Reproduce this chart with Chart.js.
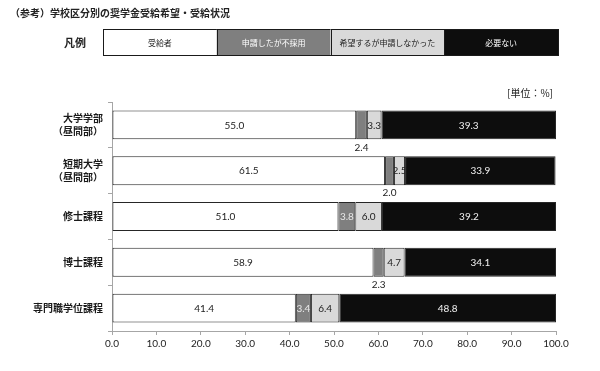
<!DOCTYPE html>
<html><head><meta charset="utf-8">
<script src="https://cdn.jsdelivr.net/npm/chart.js@4"></script>
<style>html,body{margin:0;padding:0;background:#fff;} #wrap{width:600px;height:371px;position:relative;}</style>
</head><body><div id="wrap"><canvas id="c" width="600" height="371"></canvas></div>
<script>
// ---- data ----
const chartTitle = '（参考）学校区分別の奨学金受給希望・受給状況';
const legendTitle = '凡例';
const unitLabel = '[単位：%]';
const categories = [['大学学部','（昼間部）'],['短期大学','（昼間部）'],'修士課程','博士課程','専門職学位課程'];
const seriesNames = ['受給者','申請したが不採用','希望するが申請しなかった','必要ない'];
const received = [55.0, 61.5, 51.0, 58.9, 41.4];
const appliedRejected = [2.4, 2.0, 3.8, 2.3, 3.4];
const wantedNotApplied = [3.3, 2.5, 6.0, 4.7, 6.4];
const notNeeded = [39.3, 33.9, 39.2, 34.1, 48.8];
const xTickMin = 0, xTickMax = 100, xTickStep = 10;

// ---- styles ----
const FONT = "Lato, 'Noto Sans CJK JP', sans-serif";
const JFONT = "'Noto Sans CJK JP', sans-serif";
const fills = ['#ffffff', '#7f7f7f', '#d9d9d9', '#0d0d0d'];
const labelColors = ['#222222', '#e8e8e8', '#222222', '#f2f2f2'];
const seriesValues = [received, appliedRejected, wantedNotApplied, notNeeded];

const datasets = seriesNames.map((name, i) => ({
  label: name,
  data: seriesValues[i],
  backgroundColor: fills[i],
  borderColor: '#262626',
  borderWidth: 1,
  borderSkipped: false,
  barPercentage: 0.63,
  categoryPercentage: 1.0
}));

const decorPlugin = {
  id: 'decor',
  afterDatasetsDraw(chart) {
    const ctx = chart.ctx;
    ctx.save();
    ctx.font = '10px ' + FONT;
    ctx.textAlign = 'center';
    ctx.textBaseline = 'middle';
    chart.data.datasets.forEach((ds, di) => {
      const meta = chart.getDatasetMeta(di);
      meta.data.forEach((el, i) => {
        const v = ds.data[i];
        const left = Math.min(el.x, el.base), right = Math.max(el.x, el.base);
        const top = el.y - el.height / 2, bottom = el.y + el.height / 2;
        const cx = (left + right) / 2;
        const txt = v.toFixed(1);
        if (v < 2.45) {
          ctx.fillStyle = '#222222';
          ctx.fillText(txt, cx, bottom + 8);
        } else {
          ctx.save();
          ctx.beginPath();
          ctx.rect(left, top, right - left, bottom - top);
          ctx.clip();
          ctx.fillStyle = labelColors[di];
          ctx.fillText(txt, cx, el.y + 0.5);
          ctx.restore();
        }
      });
    });
    ctx.restore();
  },
  afterDraw(chart) {
    const ctx = chart.ctx;
    ctx.save();
    // title
    ctx.fillStyle = '#222222';
    ctx.font = 'bold 10px ' + JFONT;
    ctx.textAlign = 'left';
    ctx.textBaseline = 'middle';
    ctx.fillText(chartTitle, 10, 13);
    // legend title
    ctx.font = 'bold 11px ' + JFONT;
    ctx.textAlign = 'center';
    ctx.fillText(legendTitle, 75, 43);
    // legend boxes
    const lx0 = 103, lx1 = 558, ly0 = 29, ly1 = 55;
    const n = chart.data.datasets.length;
    const w = (lx1 - lx0) / n;
    chart.data.datasets.forEach((ds, i) => {
      const x = lx0 + i * w;
      ctx.fillStyle = ds.backgroundColor;
      ctx.fillRect(x, ly0, w, ly1 - ly0);
      ctx.strokeStyle = '#1a1a1a';
      ctx.lineWidth = 1;
      ctx.strokeRect(Math.round(x) + 0.5, ly0 + 0.5, Math.round(w), ly1 - ly0);
      ctx.fillStyle = (i === 1 || i === 3) ? '#ffffff' : '#222222';
      ctx.font = '8px ' + JFONT;
      ctx.fillText(ds.label, x + w / 2, (ly0 + ly1) / 2 + 0.5);
    });
    // unit
    ctx.fillStyle = '#222222';
    ctx.font = '10px ' + JFONT;
    ctx.textAlign = 'right';
    ctx.fillText(unitLabel, 553, 93);
    ctx.restore();
  }
};

new Chart(document.getElementById('c'), {
  type: 'bar',
  data: { labels: categories, datasets },
  options: {
    indexAxis: 'y',
    responsive: false,
    animation: false,
    layout: { padding: { top: 102, right: 44, bottom: 0, left: 0 } },
    plugins: { legend: { display: false }, tooltip: { enabled: false } },
    scales: {
      x: {
        stacked: true,
        min: xTickMin, max: xTickMax,
        afterFit(scale) { scale.height = 40; },
        ticks: {
          stepSize: xTickStep,
          callback: v => Number(v).toFixed(1),
          font: { size: 10, family: FONT },
          color: '#222222',
          padding: 3,
          maxRotation: 0
        },
        grid: { drawOnChartArea: false, drawTicks: true, tickLength: 4, color: '#a6a6a6' },
        border: { color: '#a6a6a6' }
      },
      y: {
        stacked: true,
        offset: true,
        afterFit(scale) { scale.width = 112; },
        ticks: {
          font: { size: 10, family: JFONT, weight: 'bold', lineHeight: 1.3 },
          color: '#1a1a1a',
          padding: 5
        },
        grid: { offset: true, drawOnChartArea: false, drawTicks: true, tickLength: 4, color: '#a6a6a6' },
        border: { color: '#a6a6a6' }
      }
    }
  },
  plugins: [decorPlugin]
});
</script>
</body></html>
